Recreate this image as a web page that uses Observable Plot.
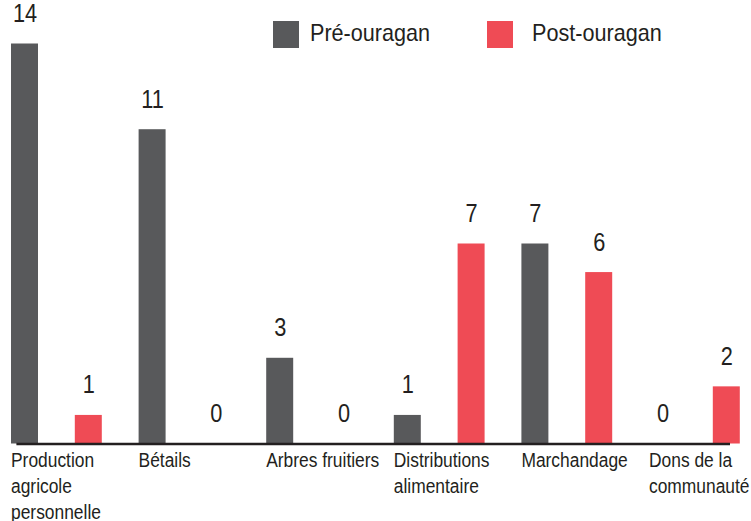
<!DOCTYPE html>
<html>
<head>
<meta charset="utf-8">
<script src="https://cdn.jsdelivr.net/npm/d3@7"></script>
<script src="https://cdn.jsdelivr.net/npm/@observablehq/plot@0.6"></script>
<style>
  html, body { margin: 0; padding: 0; background: #fff; overflow: hidden; }
  #wrap { position: relative; width: 751px; height: 521px; font-family: "Liberation Sans", Arial, sans-serif; color: #231f20; }
  .legend { position: absolute; top: 0; left: 0; width: 751px; height: 0; }
  .item { position: absolute; font-size: 24px; line-height: 27px; white-space: nowrap; transform: scaleX(0.9); transform-origin: 0 50%; }
  .sw { position: absolute; width: 26px; height: 27px; }
</style>
</head>
<body>
<div id="wrap"></div>
<script>
const categories = ["Production\nagricole\npersonnelle", "Bétails", "Arbres fruitiers", "Distributions\nalimentaire", "Marchandage", "Dons de la\ncommunauté"];
const series = ["Pré-ouragan", "Post-ouragan"];
const preValues = [14, 11, 3, 1, 7, 0];
const postValues = [1, 0, 0, 7, 6, 2];
const colors = ["#58595b", "#ef4b55"];

const data = categories.flatMap((c, i) => [
  {cat: c, series: series[0], key: i + "-0", value: preValues[i]},
  {cat: c, series: series[1], key: i + "-1", value: postValues[i]}
]);
const keys = data.map(d => d.key);
const catData = categories.map((c, i) => ({cat: c, key: i + "-0"}));

const font = '"Liberation Sans", Arial, sans-serif';

const chart = Plot.plot({
  width: 751,
  height: 521,
  marginTop: 43.5,
  marginBottom: 77.5,
  style: {fontFamily: font, color: "#231f20", background: "transparent"},
  x: {type: "band", domain: keys, range: [-7.4, 758.2], round: false, paddingInner: 0.577, paddingOuter: 0.2885, axis: null},
  y: {domain: [0, 14], axis: null},
  color: {domain: series, range: colors},
  marks: [
    Plot.barY(data, {x: "key", y: "value", fill: "series"}),
    Plot.text(data, {x: "key", y: "value", text: d => String(d.value), lineAnchor: "bottom", dy: -22, fontSize: 25, fill: "#231f20"}),
    Plot.text(catData, {x: "key", y: 0, text: "cat", textAnchor: "start", lineAnchor: "top", dx: -14, dy: 5, fontSize: 20, lineHeight: 1.3, fill: "#231f20"}),
    Plot.ruleY([0], {insetLeft: 16.4, insetRight: 20, stroke: "#231f20", strokeWidth: 2.5})
  ]
});

// condensed look of the original typeface
chart.querySelectorAll("text").forEach(t => {
  const tr = t.getAttribute("transform") || "";
  t.setAttribute("transform", (tr + " scale(0.87,1)").trim());
});

const wrap = document.getElementById("wrap");
wrap.appendChild(chart);

const legend = document.createElement("div");
legend.className = "legend";
const legendPos = [{sw: 273, tx: 310}, {sw: 487, tx: 532}];
series.forEach((s, i) => {
  const sw = document.createElement("div");
  sw.className = "sw";
  sw.style.left = legendPos[i].sw + "px";
  sw.style.top = "21px";
  sw.style.background = colors[i];
  legend.appendChild(sw);
  const t = document.createElement("div");
  t.className = "item";
  t.style.left = legendPos[i].tx + "px";
  t.style.top = "19px";
  t.textContent = s;
  legend.appendChild(t);
});
wrap.appendChild(legend);
</script>
</body>
</html>
